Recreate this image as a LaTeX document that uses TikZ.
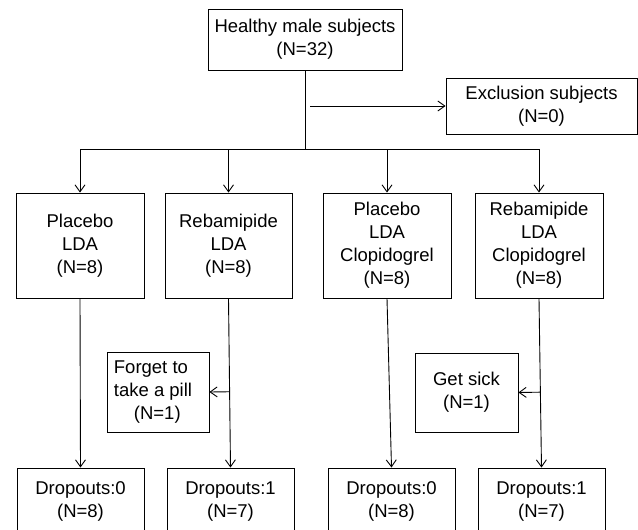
\documentclass[tikz,border=0pt]{standalone}
\usepackage{fontspec}
\setmainfont{Liberation Sans}
\usetikzlibrary{arrows.meta,calc}
\begin{document}
\begin{tikzpicture}[x=1pt,y=-1pt,
  box/.style={draw, line width=0.9pt, align=center, inner sep=0pt,
    font=\fontsize{18.5}{23}\selectfont},
  txt/.style={inner sep=0pt, font=\fontsize{18.5}{23}\selectfont},
  arr/.style={-{Straight Barb[length=7pt,width=10pt]}, line width=0.9pt},
  conn/.style={line width=0.9pt}]
\useasboundingbox (0,0) rectangle (638,530);
\clip (0,0) rectangle (638,530);

% nodes
\node[box, minimum width=194pt, minimum height=61pt] (top) at (305,39.5)
  {Healthy male subjects\\(N=32)};
\node[box, minimum width=191pt, minimum height=56pt] (excl) at (541.5,106)
  {Exclusion subjects\\(N=0)};

\node[box, minimum width=128pt, minimum height=105pt] (g1) at (80,245.5)
  {Placebo\\LDA\\(N=8)};
\node[box, minimum width=127pt, minimum height=105pt] (g2) at (228.5,245.5)
  {Rebamipide\\LDA\\(N=8)};
\node[box, minimum width=128pt, minimum height=105pt] (g3) at (387,245.5)
  {Placebo\\LDA\\Clopidogrel\\(N=8)};
\node[box, minimum width=128pt, minimum height=105pt] (g4) at (539,245.5)
  {Rebamipide\\LDA\\Clopidogrel\\(N=8)};

\node[box, minimum width=102pt, minimum height=80pt] (forget) at (158,392) {};
\node[txt, align=left] (forgettext) at (153,392.5)
  {Forget to\\take a pill\\\hspace*{20pt}(N=1)};
\node[box, minimum width=103pt, minimum height=79pt] (sick) at (466.5,392.5)
  {Get sick\\(N=1)};

\node[box, minimum width=127pt, minimum height=67pt] (d1) at (80.5,501.5)
  {Dropouts:0\\(N=8)};
\node[box, minimum width=127pt, minimum height=67pt] (d2) at (230.5,501.5)
  {Dropouts:1\\(N=7)};
\node[box, minimum width=127pt, minimum height=67pt] (d3) at (391.5,501.5)
  {Dropouts:0\\(N=8)};
\node[box, minimum width=127pt, minimum height=67pt] (d4) at (541.5,501.5)
  {Dropouts:1\\(N=7)};

% helper coordinates
\coordinate (hl) at (0,149);
\coordinate (ea) at (310,0);

% connectors
\draw[conn] (top.south) -- (top.south |- hl);
\draw[arr] (ea |- excl.west) -- (excl.west);
\draw[conn] (g1.north |- hl) -- (g4.north |- hl);
\foreach \g in {g1,g2,g3,g4}{
  \draw[arr] (\g.north |- hl) -- (\g.north);
}
\draw[arr] (g1.south) -- (d1.north);
\draw[arr] (g2.south) -- (d2.north);
\draw[arr] (g3.south) -- (d3.north);
\draw[arr] (g4.south) -- (d4.north);
\draw[arr] ($(g2.south)!(forget.east)!(d2.north)$) -- (forget.east);
\draw[arr] ($(g4.south)!(sick.east)!(d4.north)$) -- (sick.east);
\end{tikzpicture}
\end{document}
